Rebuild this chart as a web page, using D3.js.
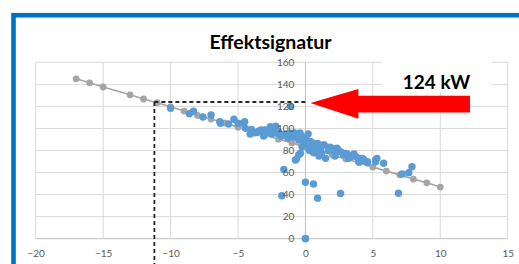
<!DOCTYPE html>
<html>
<head>
<meta charset="utf-8">
<script src="https://cdn.jsdelivr.net/npm/d3@7"></script>
<style>
  html, body { margin: 0; padding: 0; background: #fff; }
  svg { display: block; font-family: Lato, "Open Sans", sans-serif; }
</style>
</head>
<body>
<div id="chart"></div>
<script>
// model line (grey)
const modelTemp = [-17, -16, -15, -13, -12, -11, -10, -9, -8, -7, -6, -5, -4, -3, -2, -1, 0, 1, 2, 3, 4, 5, 6, 7, 8, 9, 10];
const modelPower = [145, 141.4, 137.6, 130.5, 126.7, 123.3, 119.6, 115.8, 111.8, 108.5, 105, 101.2, 97.8, 94, 90.3, 86.9, 83.3, 79.6, 76, 72.2, 68.8, 65, 61.3, 57.9, 54.1, 50.7, 46.8];

// measured values (blue)
const measTemp = [-10, -8.6, -8.3, -7.6, -7, -6.35, -6.3, -5.7, -5.3, -5, -4.6, -4.5, -4.45, -4.1, -3.8, -3.6, -3.3, -3, -3.1, -2.6,
  -2.5, -2.5, -2.1, -2.2, -1.6, -1.5, -1.1, -1, -0.9, -0.8, -0.6, -0.5, -0.5, -0.3, -0.2, -1.1, -0.74, -0.67, -0.5, -0.37,
  -0.25, -0.1, -0.1, 0, 0.1, 0.25, 0.4, 0.5, 0.6, 0.8, 0.9, 1, 1.3, 1.4, 1.2, 1.5, 2, 2, 2.35, 2.35,
  2.2, 2.97, 3.1, 3.2, 3.6, 3.95, 4.2, 4.3, 4.6, 4.6, 5.2, 5.2, 5.3, 5.8, 7.17, 7.66, 7.9, 6.9, 2.6, 0.9,
  0.6, 0, -1.6, -1.75, 0, 0, 0.3, 0.7, 0.2,
  -4, -3.5, -2.8, -2, -1.8, -1.3, -0.4, 0.3, 0.7, 1.1, 1.7, 1.8, 2.6, 2.8, 3.4, 3.8, 4, 4.4, 1, 0.6];
const measPower = [118.3, 113.4, 115.6, 110.4, 112.2, 106.1, 104.7, 104, 108.3, 104.7, 104.7, 106.1, 100.1, 95, 96.1, 96.2, 98.6, 98.6, 93.2, 101.6,
  97, 95, 95.6, 102, 94, 95, 95.6, 94, 92.5, 96, 94, 89.5, 91, 93, 90, 120, 71.4, 72, 75.9, 77.5,
  83.4, 88, 85, 91, 89, 88, 88, 84, 86.5, 82, 86.5, 83.4, 85, 85, 77.4, 72.9, 82, 80.5, 78.9, 82,
  75, 77.4, 76.8, 72.9, 76.8, 69.8, 72.9, 72, 68.9, 69.8, 69.8, 71.4, 72.9, 68.4, 58.7, 59.9, 65.3, 41.2, 41, 36.8,
  49.6, 51.2, 62.8, 39, 0, 0.3, 80, 79, 95,
  99, 97.5, 96.5, 97, 93, 91.5, 96, 86, 84.5, 81, 80, 83, 79, 76, 74.5, 74, 71, 70.5, 75, 78];

const xTicks = [-20, -15, -10, -5, 0, 5, 10, 15];
const yTicks = [0, 20, 40, 60, 80, 100, 120, 140, 160];
const designTemp = -11.2;
const designPower = 124;
const title = 'Effektsignatur';
const noteLabel = '124 kW';

const width = 519, height = 264;
const svg = d3.select('#chart').append('svg').attr('width', width).attr('height', height);

const x = d3.scaleLinear().domain([-20, 15]).range([35.7, 507.7]);
const y = d3.scaleLinear().domain([0, 160]).range([238.7, 62.3]);

// outer blue frame
svg.append('rect')
  .attr('x', 13.5).attr('y', 15.2)
  .attr('width', 540).attr('height', 300)
  .attr('fill', 'none').attr('stroke', '#0070c0').attr('stroke-width', 4.6);

// gridlines
svg.append('g')
  .selectAll('line.hgrid')
  .data(yTicks)
  .join('line')
  .attr('x1', x(-20)).attr('x2', x(15))
  .attr('y1', d => y(d)).attr('y2', d => y(d))
  .attr('stroke', d => d === 0 ? '#bfbfbf' : '#d9d9d9').attr('stroke-width', 1);

svg.append('g')
  .selectAll('line.vgrid')
  .data(xTicks)
  .join('line')
  .attr('x1', d => x(d)).attr('x2', d => x(d))
  .attr('y1', y(0)).attr('y2', y(160))
  .attr('stroke', d => d === 0 ? '#bfbfbf' : '#d9d9d9').attr('stroke-width', 1);

// text box behind the kW label (white fill hides the grid)
svg.append('rect')
  .attr('x', 382).attr('y', 55).attr('width', 110).attr('height', 37)
  .attr('fill', '#fff');

// model line
const model = modelTemp.map((t, i) => ({t, p: modelPower[i]}));
svg.append('path')
  .datum(model)
  .attr('fill', 'none').attr('stroke', '#a5a5a5').attr('stroke-width', 1.6)
  .attr('d', d3.line().x(d => x(d.t)).y(d => y(d.p)));

svg.append('g')
  .selectAll('circle')
  .data(model)
  .join('circle')
  .attr('cx', d => x(d.t)).attr('cy', d => y(d.p))
  .attr('r', 3.4).attr('fill', '#a5a5a5');

// measured points
const meas = measTemp.map((t, i) => ({t, p: measPower[i]}));
svg.append('g')
  .selectAll('circle')
  .data(meas)
  .join('circle')
  .attr('cx', d => x(d.t)).attr('cy', d => y(d.p))
  .attr('r', 3.7).attr('fill', '#5b9bd5');

// dashed helper lines
svg.append('line')
  .attr('x1', x(designTemp)).attr('x2', x(designTemp))
  .attr('y1', y(designPower)).attr('y2', height + 5)
  .attr('stroke', '#262626').attr('stroke-width', 1.8).attr('stroke-dasharray', '4,3');
svg.append('line')
  .attr('x1', x(designTemp)).attr('x2', x(0) + 2)
  .attr('y1', y(designPower)).attr('y2', y(designPower))
  .attr('stroke', '#262626').attr('stroke-width', 1.8).attr('stroke-dasharray', '4,3');

// axes labels
const xAxis = d3.axisBottom(x).tickValues(xTicks).tickSize(0).tickPadding(11.5);
svg.append('g')
  .attr('transform', `translate(0, ${y(0)})`)
  .call(xAxis)
  .call(g => g.select('.domain').remove())
  .selectAll('text')
  .attr('font-family', 'Lato, sans-serif').attr('font-size', 10).attr('fill', '#595959');

const yAxis = d3.axisLeft(y).tickValues(yTicks).tickSize(0).tickPadding(11);
svg.append('g')
  .attr('transform', `translate(${x(0)}, 0)`)
  .call(yAxis)
  .call(g => g.select('.domain').remove())
  .selectAll('text')
  .attr('font-family', 'Lato, sans-serif').attr('font-size', 10).attr('fill', '#595959');

// title
svg.append('text')
  .attr('x', 270.5).attr('y', 48.5)
  .attr('text-anchor', 'middle')
  .attr('font-size', 19.5).attr('font-weight', 'bold').attr('fill', '#000')
  .text(title);

// annotation
svg.append('text')
  .attr('x', 436.5).attr('y', 89.3)
  .attr('text-anchor', 'middle')
  .attr('font-size', 19).attr('font-weight', 'bold').attr('fill', '#000')
  .text(noteLabel);

const tipX = x(0) + 5, tipY = y(designPower) + 1;
svg.append('path')
  .attr('fill', '#ff0000')
  .attr('d', d3.line()([
    [tipX, tipY],
    [tipX + 48, tipY - 14],
    [tipX + 48, tipY - 7.3],
    [470, tipY - 7.3],
    [470, tipY + 9.4],
    [tipX + 48, tipY + 9.4],
    [tipX + 48, tipY + 15.7]
  ]) + 'Z');
</script>
</body>
</html>
